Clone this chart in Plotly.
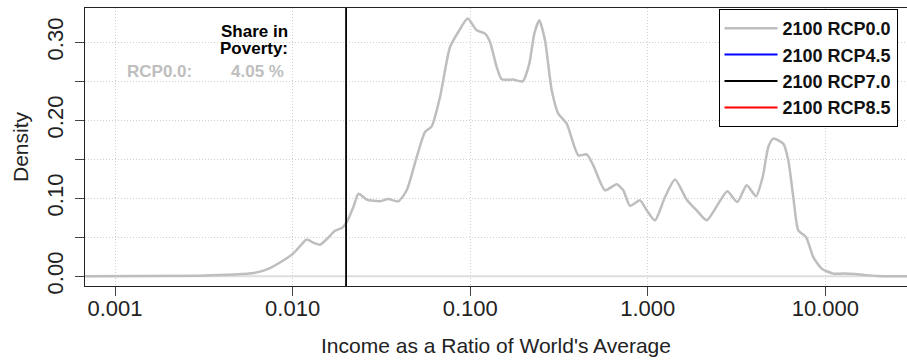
import plotly.graph_objects as go

# ---------------- data ----------------
income_ratio = [0.00068, 0.00304, 0.00468, 0.00606, 0.00736, 0.00857, 0.00996, 0.01111,
                0.0120, 0.01320, 0.01427, 0.01568, 0.01726, 0.01905, 0.02032, 0.02197,
                0.02350, 0.02613, 0.03105, 0.03458, 0.03937, 0.04390, 0.04998, 0.05566,
                0.06070, 0.06761, 0.07695, 0.08570, 0.09681, 0.1088, 0.1212, 0.1293,
                0.1410, 0.1505, 0.1749, 0.1975, 0.2152, 0.2296, 0.2449, 0.2637,
                0.2877, 0.3133, 0.3494, 0.4062, 0.4529, 0.4932, 0.5741, 0.6682,
                0.7278, 0.7940, 0.9039, 0.9858, 1.098, 1.250, 1.423, 1.656,
                1.885, 2.146, 2.495, 2.803, 3.192, 3.606, 4.068, 4.436,
                4.770, 5.090, 5.794, 6.182, 6.596, 7.037, 7.779, 8.550,
                9.532, 11.08, 12.61, 15.66, 19.45, 30.0]
density_rcp00 = [0.0, 0.0008, 0.0022, 0.0042, 0.0099, 0.0183, 0.0282, 0.0397,
                 0.0471, 0.0427, 0.0406, 0.0483, 0.0581, 0.0624, 0.0709, 0.0888,
                 0.1058, 0.0983, 0.0962, 0.0991, 0.0962, 0.1103, 0.1529, 0.1850,
                 0.1923, 0.2299, 0.2940, 0.3132, 0.3304, 0.3154, 0.3112, 0.3004,
                 0.2683, 0.2526, 0.2522, 0.2500, 0.2727, 0.3112, 0.3282, 0.3026,
                 0.2385, 0.2086, 0.1958, 0.1551, 0.1564, 0.1423, 0.1103, 0.1179,
                 0.1103, 0.0904, 0.0974, 0.0846, 0.0718, 0.1017, 0.1240, 0.0983,
                 0.0846, 0.0718, 0.0932, 0.1090, 0.0953, 0.1167, 0.1026, 0.1273,
                 0.1658, 0.1765, 0.1701, 0.1487, 0.1017, 0.0590, 0.0504, 0.0247,
                 0.0099, 0.0035, 0.0035, 0.0022, 0.0004, 0.0]

series_names = ["2100 RCP0.0", "2100 RCP4.5", "2100 RCP7.0", "2100 RCP8.5"]
series_colors = ["#BEBEBE", "#0000FF", "#000000", "#FF0000"]

poverty_line = 0.02
poverty_label = "RCP0.0:"
poverty_share = "4.05 %"

x_tick_vals = [0.001, 0.01, 0.1, 1, 10]
x_tick_text = ["0.001", "0.010", "0.100", "1.000", "10.000"]
y_tick_vals = [0.0, 0.05, 0.10, 0.15, 0.20, 0.25, 0.30]
y_tick_text = ["0.00", "", "0.10", "", "0.20", "", "0.30"]

FONT = "Liberation Sans, Arial, Helvetica, sans-serif"

# plot-area geometry in figure pixels
L, T, W, H = 85, 8, 822, 278

fig = go.Figure()

# light reference line at zero density
fig.add_trace(go.Scatter(x=[0.0001, 1000], y=[0, 0], mode="lines",
                         line=dict(color="#DDDDDD", width=2),
                         showlegend=False, hoverinfo="skip"))

# density curve RCP0.0
fig.add_trace(go.Scatter(x=income_ratio, y=density_rcp00, mode="lines",
                         name=series_names[0],
                         line=dict(color=series_colors[0], width=2.5,
                                   shape="spline", smoothing=0.6)))

# remaining scenarios (legend only)
for nm, col in zip(series_names[1:], series_colors[1:]):
    fig.add_trace(go.Scatter(x=[None], y=[None], mode="lines", name=nm,
                             line=dict(color=col, width=2)))

# poverty line
fig.add_trace(go.Scatter(x=[poverty_line, poverty_line], y=[-1, 1], mode="lines",
                         line=dict(color="#000000", width=1.8),
                         showlegend=False, hoverinfo="skip"))

axis_common = dict(
    automargin=False,
    showline=True, linecolor="#222222", linewidth=1,
    ticks="outside", ticklen=9, tickwidth=1, tickcolor="#444444",
    showgrid=True, gridcolor="#CFCFCF", gridwidth=1, griddash="1px,2px",
    zeroline=False,
    tickfont=dict(family=FONT, size=22, color="#222222"),
)

fig.update_layout(
    template="none",
    width=907, height=360,
    margin=dict(l=L, r=907 - L - W, t=T, b=360 - T - H, autoexpand=False),
    paper_bgcolor="white", plot_bgcolor="white",
    font=dict(family=FONT, color="#222222"),
    xaxis=dict(type="log", range=[-3.169, 1.4595],
               tickvals=x_tick_vals, ticktext=x_tick_text,
               mirror=True, ticklabelstandoff=-6, **axis_common),
    yaxis=dict(range=[-0.0124, 0.344],
               tickvals=y_tick_vals, ticktext=y_tick_text,
               tickangle=-90, mirror=False, ticklabelstandoff=3, **axis_common),
    legend=dict(x=(718.5 - L) / W, xanchor="left", y=1.0 - 1.0 / H, yanchor="top",
                bgcolor="white", bordercolor="#000000", borderwidth=1,
                font=dict(family=FONT, size=18, color="#111111", weight="bold"),
                itemwidth=53, tracegroupgap=0),
    showlegend=True,
    hovermode=False,
)


def px_x(px):
    return (px - L) / W


def px_y(py):
    return (T + H - py) / H


annots = [
    dict(text="Share in", x=px_x(290), y=px_y(31.5), xanchor="right",
         font=dict(size=17, color="#000000", weight="bold")),
    dict(text="Poverty:", x=px_x(290), y=px_y(48.5), xanchor="right",
         font=dict(size=17, color="#000000", weight="bold")),
    dict(text=poverty_label, x=px_x(124.5), y=px_y(71), xanchor="left",
         font=dict(size=17, color="#BEBEBE", weight="bold")),
    dict(text=poverty_share, x=px_x(286), y=px_y(71), xanchor="right",
         font=dict(size=17, color="#BEBEBE", weight="bold")),
    dict(text="Income as a Ratio of World's Average", x=px_x(496), y=px_y(345),
         xanchor="center", font=dict(size=21, color="#222222")),
    dict(text="Density", x=px_x(20), y=px_y(147), textangle=-90,
         xanchor="center", font=dict(size=21, color="#222222")),
]
for a in annots:
    a.update(showarrow=False, xref="paper", yref="paper", yanchor="middle")
    a["font"]["family"] = FONT
    fig.add_annotation(**a)

fig.write_html(
    "out.html",
    config={"displayModeBar": False},
    post_script="document.body.style.margin='0px';document.body.style.overflow='hidden';",
)
